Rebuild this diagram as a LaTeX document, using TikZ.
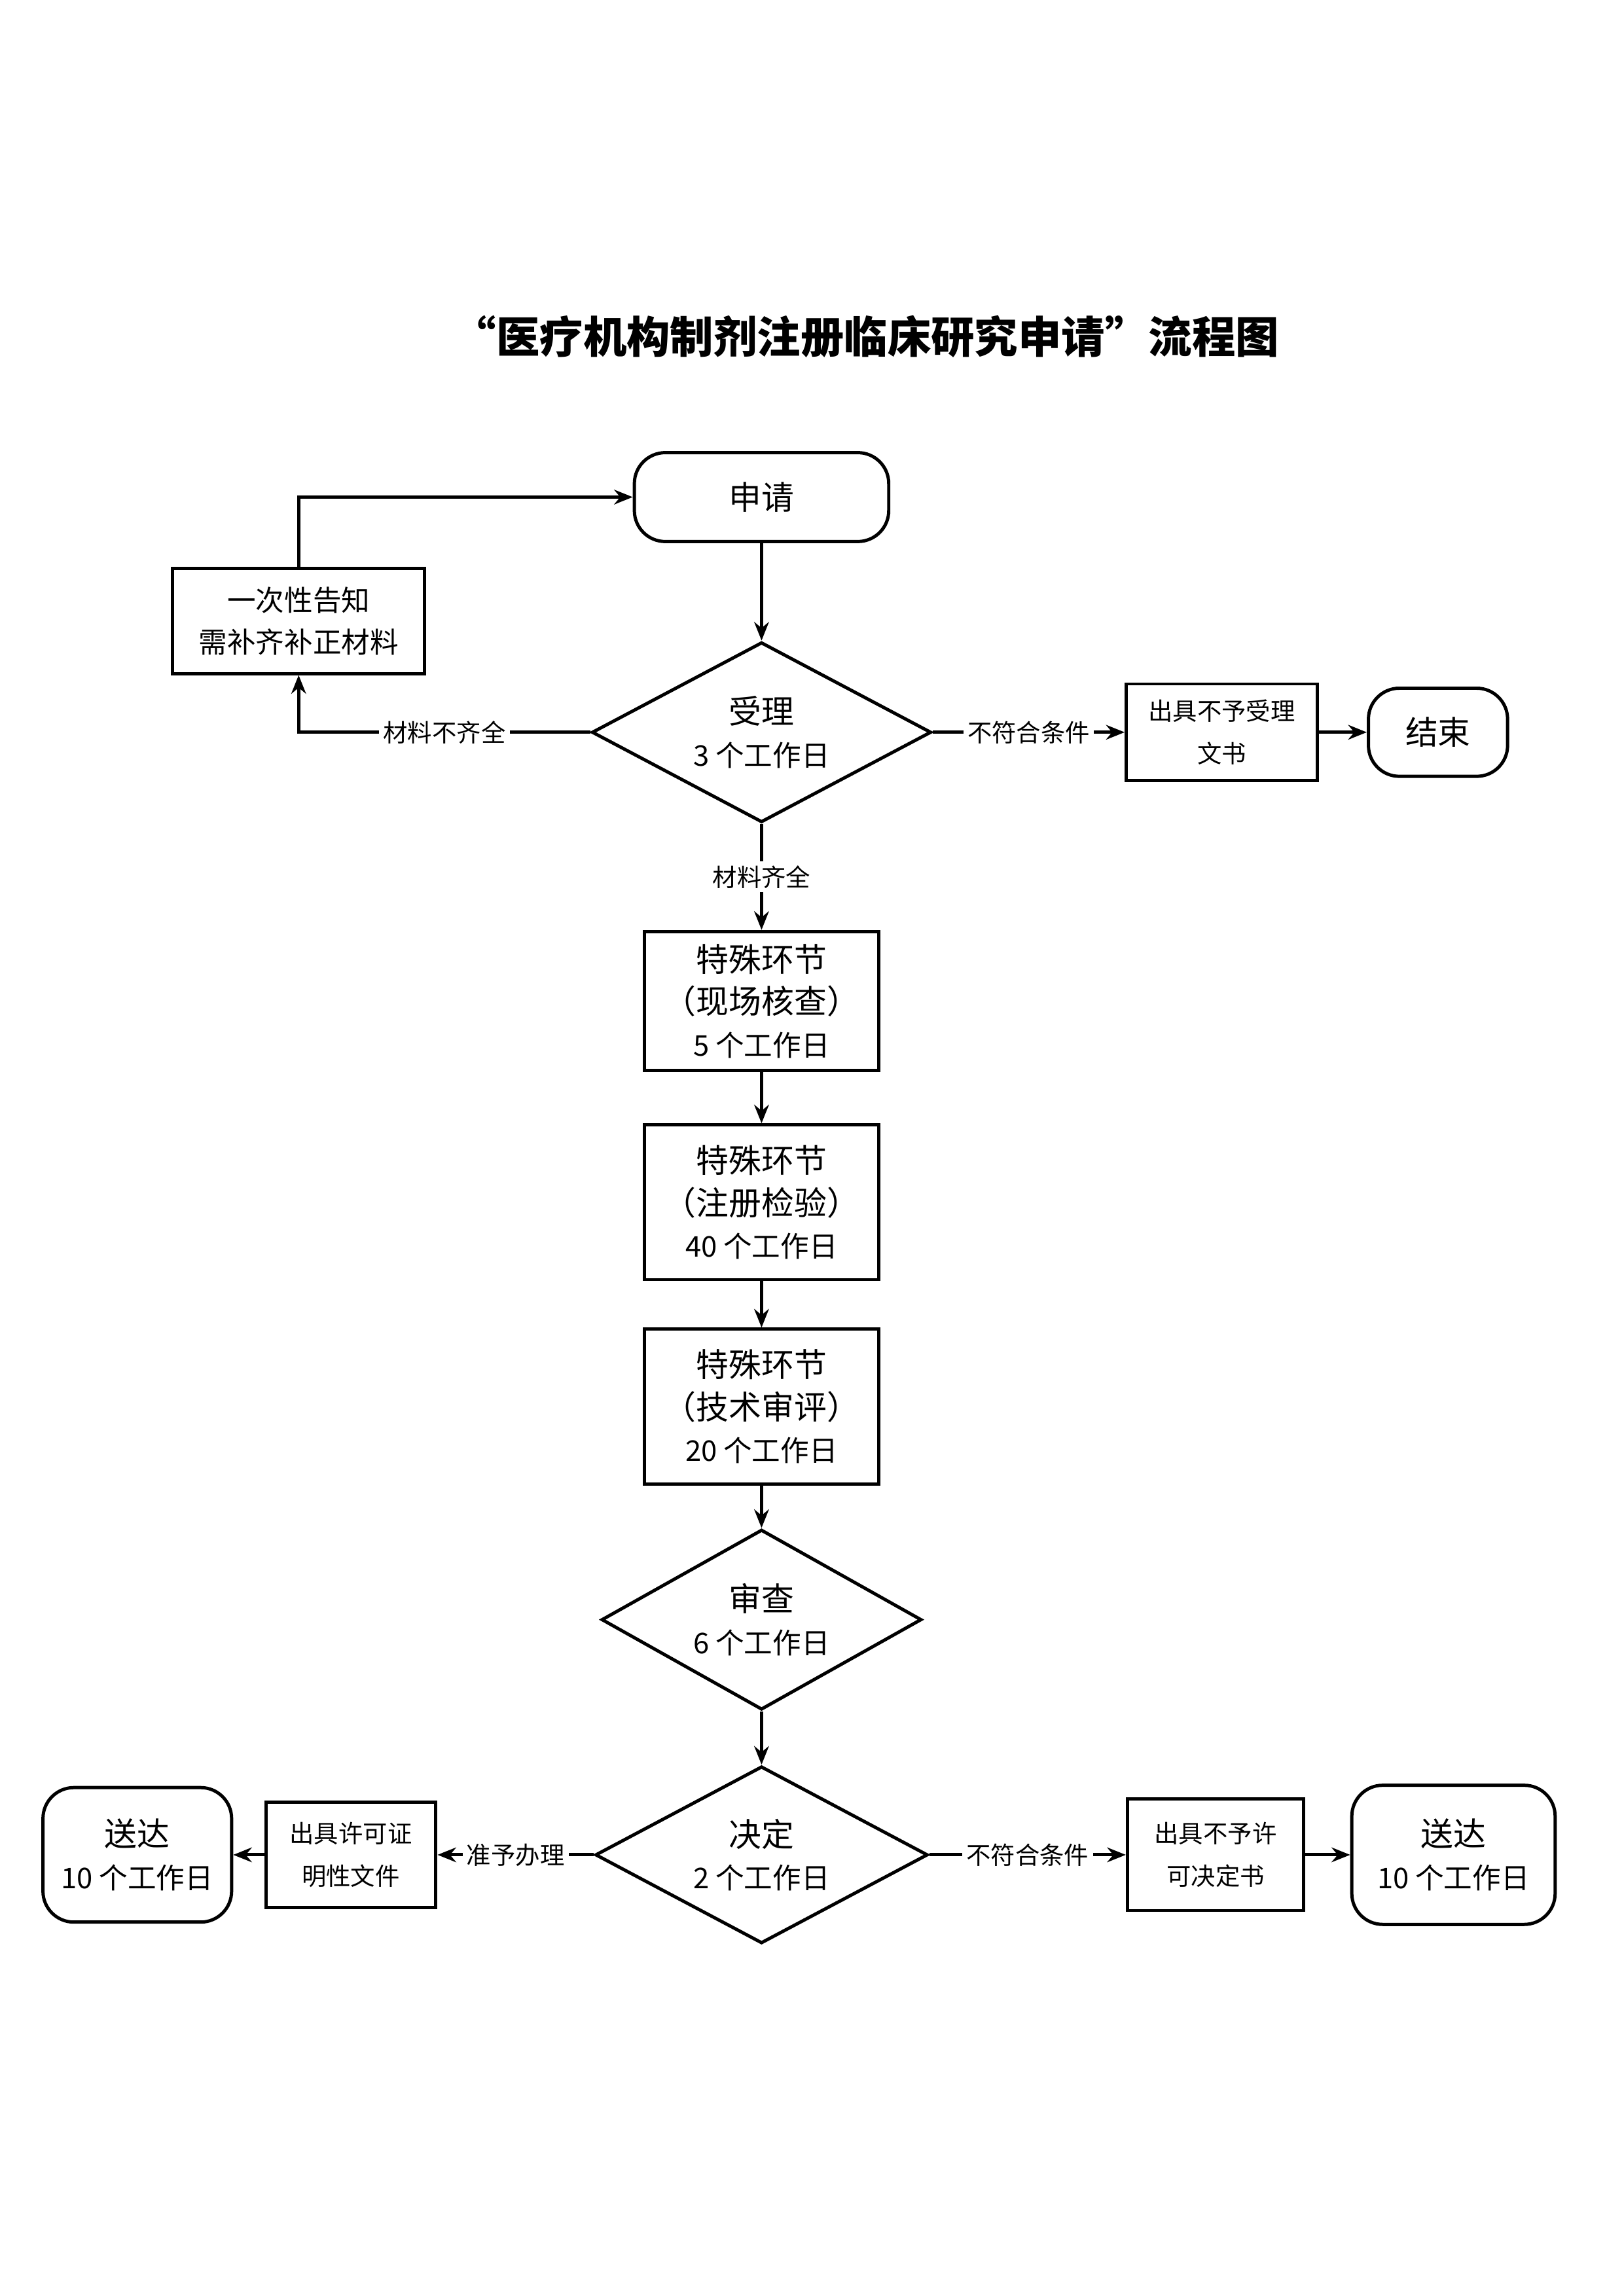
\documentclass[tikz,border=0pt]{standalone}
\usepackage{fontspec}
\setmainfont{Noto Sans CJK SC}
\usepackage{tikz}
\usetikzlibrary{shapes.geometric, arrows.meta, positioning, calc}

\begin{document}
\begin{tikzpicture}[font=\fontsize{10.5}{15.5}\selectfont, >=Stealth, node distance=1.3cm,
        st/.style={draw, line width=1.2pt, minimum width=3.03cm, minimum height=1.8cm, align=center},
        term/.style={draw, line width=1.2pt, rounded corners=4mm, align=center},
        dec/.style={diamond, draw, line width=1.2pt, align=center, inner sep=0pt, aspect=1.9},
        big/.style={font=\fontsize{12}{15.5}\selectfont},
        sm/.style={font=\fontsize{9}{15.5}\selectfont},
        lbl/.style={fill=white, font=\fontsize{9}{11}\selectfont, inner sep=1.5pt},
        tr/.style={-{Stealth[length=2.4mm, width=1.9mm]}, line width=1.2pt}]
        \useasboundingbox (0,0) rectangle (21,-29.7);
        \node[font=\fontsize{16}{19}\selectfont\bfseries] (t) at (11.2,-4.35) {“医疗机构制剂注册临床研究申请”流程图};

        \node[term, big, minimum width=3.29cm, minimum height=1.15cm] (s) at (9.85,-6.43) {申请};
        \node[dec, minimum width=4.39cm, minimum height=2.33cm, below=1.26cm of s] (r) {{\fontsize{12}{15.5}\selectfont 受理}\\3 个工作日};
        \node[st, below left=0.305cm and 2.67cm of s, minimum width=3.26cm, minimum height=1.36cm] (g) {一次性告知\\需补齐补正材料};
        \node[st, sm, right=2.48cm of r, minimum width=2.47cm, minimum height=1.25cm] (n) {出具不予受理\\文书};
        \node[term, big, right=0.62cm of n, minimum width=1.8cm, minimum height=1.14cm] (e) {结束};

        \node[st, big, below=1.37cm of r] (k1) {特殊环节\\（现场核查）\\{\fontsize{10.5}{15.5}\selectfont 5 个工作日}};
        \node[st, big, below=0.66cm of k1, minimum height=2cm] (k2) {特殊环节\\（注册检验）\\{\fontsize{10.5}{15.5}\selectfont 40 个工作日}};
        \node[st, big, below=0.6cm of k2, minimum height=2cm] (k3) {特殊环节\\（技术审评）\\{\fontsize{10.5}{15.5}\selectfont 20 个工作日}};
        \node[dec, minimum width=4.14cm, minimum height=2.33cm, below=0.55cm of k3] (c) {{\fontsize{12}{15.5}\selectfont 审查}\\6 个工作日};
        \node[dec, minimum width=4.30cm, minimum height=2.29cm, below=0.69cm of c] (d) {{\fontsize{12}{15.5}\selectfont 决定}\\2 个工作日};

        \node[st, sm, left=2.02cm of d, minimum width=2.2cm, minimum height=1.37cm] (p) {出具许可证\\明性文件};
        \node[term, left=0.4cm of p, minimum width=2.44cm, minimum height=1.74cm] (o1) {{\fontsize{12}{15.5}\selectfont 送达}\\10 个工作日};
        \node[st, sm, right=2.54cm of d, minimum width=2.28cm, minimum height=1.44cm] (q) {出具不予许\\可决定书};
        \node[term, right=0.58cm of q, minimum width=2.63cm, minimum height=1.8cm] (o2) {{\fontsize{12}{15.5}\selectfont 送达}\\10 个工作日};

        \draw[tr] (s) -- (r);
        \draw[tr] (r.west) -- node[lbl]{材料不齐全} (r.west -| g.south) -- (g.south);
        \draw[tr] (g.north) |- (s.west);
        \draw[tr] (r.east) -- node[lbl]{不符合条件} (n);
        \draw[tr] (n) -- (e);
        \draw[tr] (r.south) -- node[lbl]{材料齐全} (k1);
        \draw[tr] (k1) -- (k2); \draw[tr] (k2) -- (k3); \draw[tr] (k3) -- (c); \draw[tr] (c) -- (d);
        \draw[tr] (d.west) -- node[lbl]{准予办理} (p);
        \draw[tr] (p) -- (o1);
        \draw[tr] (d.east) -- node[lbl]{不符合条件} (q);
        \draw[tr] (q) -- (o2);
    \end{tikzpicture}
\end{document}
